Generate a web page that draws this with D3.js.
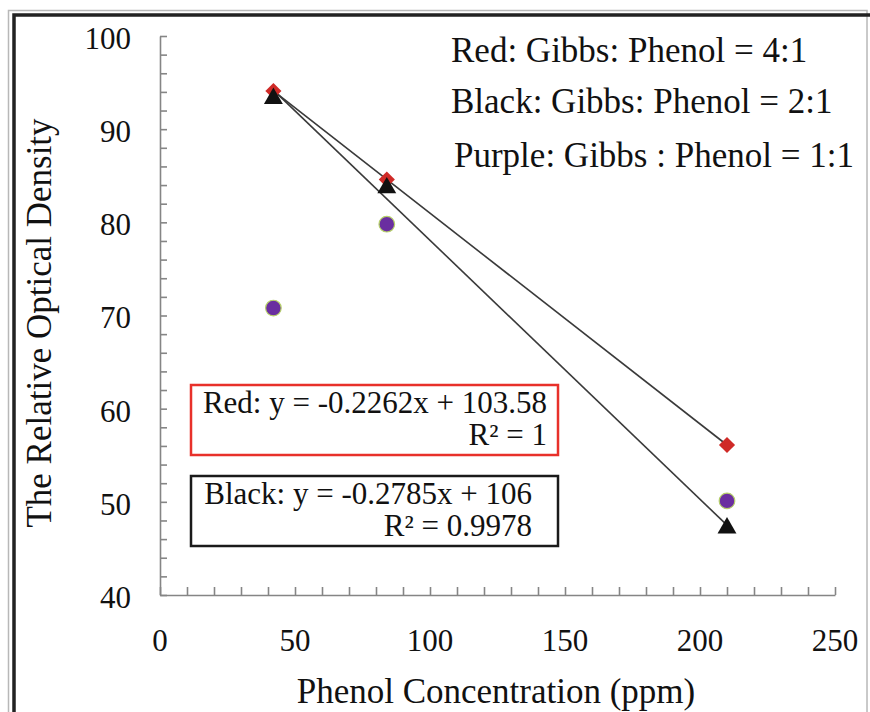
<!DOCTYPE html>
<html>
<head>
<meta charset="utf-8">
<script src="https://cdn.jsdelivr.net/npm/d3@7"></script>
<style>
  body { margin: 0; background: #fff; }
  svg { display: block; }
  text { font-family: "Liberation Serif", "Times New Roman", serif; fill: #111; }
</style>
</head>
<body>
<svg id="chart"></svg>
<script>
// data
const concentrations = [42, 84, 210];
const redValues = [94.1, 84.6, 56.1];
const blackValues = [93.3, 83.7, 47.2];
const purpleValues = [70.8, 79.8, 50.1];

const xTickLabels = [0, 50, 100, 150, 200, 250];
const yTickLabels = [40, 50, 60, 70, 80, 90, 100];

const legendLines = ["Red: Gibbs: Phenol = 4:1", "Black: Gibbs: Phenol = 2:1", "Purple: Gibbs : Phenol = 1:1"];

let svgWidth = 870, svgHeight = 712;
let svg = d3.select("#chart").attr("width", svgWidth).attr("height", svgHeight);

let x = d3.scaleLinear().domain([0, 250]).range([160, 835]),
    y = d3.scaleLinear().domain([40, 100]).range([595, 36]);

// frame
svg.append("rect")
    .attr("x", 8.5).attr("y", 10.5)
    .attr("width", 858.5).attr("height", 760)
    .attr("fill", "none").attr("stroke", "#b8b8b8").attr("stroke-width", 1.5);
svg.append("rect")
    .attr("x", 14).attr("y", 15)
    .attr("width", 900).attr("height", 760)
    .attr("fill", "none").attr("stroke", "#222").attr("stroke-width", 3.5);

// axes, ticks pointing inward
let yAxis = d3.axisLeft(y)
    .tickValues(d3.range(40, 101, 2))
    .tickSizeInner(-7).tickSizeOuter(0)
    .tickFormat("");
let xAxis = d3.axisBottom(x)
    .tickValues(d3.range(0, 251, 10))
    .tickSizeInner(-8).tickSizeOuter(0)
    .tickFormat("");

let gy = svg.append("g").attr("transform", "translate(" + x(0) + ",0)").call(yAxis);
let gx = svg.append("g").attr("transform", "translate(0," + y(40) + ")").call(xAxis);
[gx, gy].forEach(function(g) {
    g.selectAll("path, line").attr("stroke", "#858585").attr("stroke-width", 1.6);
});

svg.selectAll(".ylab")
    .data(yTickLabels)
    .enter().append("text")
    .attr("class", "ylab")
    .attr("x", 131)
    .attr("y", function(d) { return y(d) + 2; })
    .attr("dy", "0.35em")
    .attr("text-anchor", "end")
    .attr("font-size", "31px")
    .text(function(d) { return d; });

svg.selectAll(".xlab")
    .data(xTickLabels)
    .enter().append("text")
    .attr("class", "xlab")
    .attr("x", function(d) { return x(d); })
    .attr("y", 651)
    .attr("text-anchor", "middle")
    .attr("font-size", "31px")
    .text(function(d) { return d; });

// axis titles
svg.append("text")
    .attr("transform", "translate(51,323) rotate(-90)")
    .attr("text-anchor", "middle")
    .attr("font-size", "35px")
    .text("The Relative Optical Density");

svg.append("text")
    .attr("x", 496).attr("y", 703)
    .attr("text-anchor", "middle")
    .attr("font-size", "35px")
    .text("Phenol Concentration (ppm)");

// least squares trend line, drawn over the data range
function fit(xs, ys) {
    let mx = d3.mean(xs), my = d3.mean(ys);
    let sxy = d3.sum(xs, function(v, i) { return (v - mx) * (ys[i] - my); });
    let sxx = d3.sum(xs, function(v) { return (v - mx) * (v - mx); });
    let slope = sxy / sxx;
    return { slope: slope, intercept: my - slope * mx };
}

[redValues, blackValues].forEach(function(vals) {
    let f = fit(concentrations, vals);
    let x0 = d3.min(concentrations), x1 = d3.max(concentrations);
    svg.append("line")
        .attr("x1", x(x0)).attr("y1", y(f.slope * x0 + f.intercept))
        .attr("x2", x(x1)).attr("y2", y(f.slope * x1 + f.intercept))
        .attr("stroke", "#3a3a3a")
        .attr("stroke-width", 1.6);
});

// markers
svg.selectAll(".purple")
    .data(concentrations)
    .enter().append("circle")
    .attr("class", "purple")
    .attr("cx", function(d) { return x(d); })
    .attr("cy", function(d, i) { return y(purpleValues[i]); })
    .attr("r", 7.8)
    .attr("fill", "#6a2ea0")
    .attr("stroke", "#b5cf6a")
    .attr("stroke-width", 1.2);

let diamond = d3.symbol().type(d3.symbolSquare).size(130);
svg.selectAll(".red")
    .data(concentrations)
    .enter().append("path")
    .attr("class", "red")
    .attr("d", diamond)
    .attr("transform", function(d, i) { return "translate(" + x(d) + "," + y(redValues[i]) + ") rotate(45)"; })
    .attr("fill", "#cf2a27");

let tri = d3.symbol().type(d3.symbolTriangle).size(155);
svg.selectAll(".black")
    .data(concentrations)
    .enter().append("path")
    .attr("class", "black")
    .attr("d", tri)
    .attr("transform", function(d, i) { return "translate(" + x(d) + "," + y(blackValues[i]) + ")"; })
    .attr("fill", "#111");

// legend text
let legendY = [62, 113, 167], legendX = [451, 451, 454];
svg.selectAll(".legend")
    .data(legendLines)
    .enter().append("text")
    .attr("class", "legend")
    .attr("x", function(d, i) { return legendX[i]; })
    .attr("y", function(d, i) { return legendY[i]; })
    .attr("font-size", "35px")
    .text(function(d) { return d; });

// equation boxes
let boxes = [
    { stroke: "#e8302a", y: 385, line1: "Red: y = -0.2262x + 103.58", line2: "R\u00b2 = 1", right: 547 },
    { stroke: "#1a1a1a", y: 476, line1: "Black: y = -0.2785x + 106", line2: "R\u00b2 = 0.9978", right: 532 }
];
boxes.forEach(function(b) {
    let g = svg.append("g");
    g.append("rect")
        .attr("x", 191).attr("y", b.y)
        .attr("width", 367).attr("height", 70)
        .attr("fill", "#fff")
        .attr("stroke", b.stroke).attr("stroke-width", 2.5);
    g.append("text")
        .attr("x", b.right).attr("y", b.y + 28)
        .attr("text-anchor", "end")
        .attr("font-size", "31px")
        .text(b.line1);
    g.append("text")
        .attr("x", b.right).attr("y", b.y + 60)
        .attr("text-anchor", "end")
        .attr("font-size", "31px")
        .text(b.line2);
});
</script>
</body>
</html>
